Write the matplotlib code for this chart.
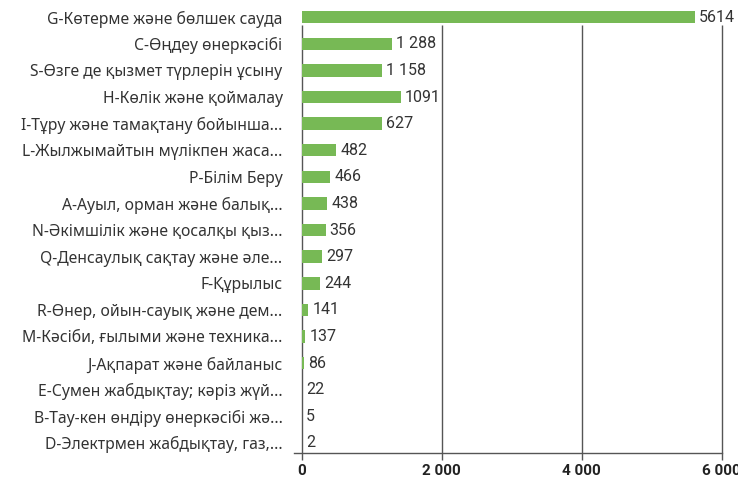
import matplotlib
matplotlib.use("Agg")
import matplotlib.pyplot as plt

# categories (top to bottom)
categories = [
    "G-Көтерме және бөлшек сауда",
    "C-Өңдеу өнеркәсібі",
    "S-Өзге де қызмет түрлерін ұсыну",
    "H-Көлік және қоймалау",
    "I-Тұру және тамақтану бойынша...",
    "L-Жылжымайтын мүлікпен жаса...",
    "P-Білім Беру",
    "A-Ауыл, орман және балық...",
    "N-Әкімшілік және қосалқы қыз...",
    "Q-Денсаулық сақтау және әле...",
    "F-Құрылыс",
    "R-Өнер, ойын-сауық және дем...",
    "M-Кәсіби, ғылыми және техника...",
    "J-Ақпарат және байланыс",
    "E-Сумен жабдықтау; кәріз жүй...",
    "B-Тау-кен өндіру өнеркәсібі жә...",
    "D-Электрмен жабдықтау, газ,...",
]
# bar lengths as drawn in the picture
bar_values = [5614, 1286, 1140, 1414, 1143, 496, 410, 362, 339, 290, 267, 90, 53, 33, 0, 0, 0]
# value labels as printed
value_labels = ["5614", "1 288", "1 158", "1091", "627", "482", "466", "438", "356",
                "297", "244", "141", "137", "86", "22", "5", "2"]
xticks = [0, 2000, 4000, 6000]
xtick_labels = ["0", "2 000", "4 000", "6 000"]

bar_color = "#77b955"
line_color = "#555555"

plt.rcParams['font.family'] = ['Noto Sans', 'DejaVu Sans']

fig = plt.figure(figsize=(7.38, 4.84), dpi=100)
ax = fig.add_axes([0.398, 0.064, 0.58, 0.928])

y = list(range(len(categories)))
ax.barh(y, bar_values, height=0.47, color=bar_color, zorder=3)

# vertical grid lines start just under the first bar
ax.vlines(xticks, 0.3, 16.38, color=line_color, linewidth=1, zorder=2, clip_on=False)

for yi, v, lab in zip(y, bar_values, value_labels):
    ax.annotate(lab, (v, yi), xytext=(3, 0), textcoords="offset points",
                va="center", ha="left", fontsize=11.5, color="#333333",
                family=['Roboto', 'DejaVu Sans'])

ax.set_xlim(-115, 6000)
ax.set_ylim(16.38, -0.5)
ax.set_yticks(y)
ax.set_yticklabels(categories, fontsize=11.3, color="#333333")
ax.tick_params(axis="y", length=0, pad=8)
ax.set_xticks(xticks)
ax.set_xticklabels(xtick_labels, fontsize=11, fontweight="bold", color="#222222",
                   family=['Roboto', 'DejaVu Sans'])
ax.tick_params(axis="x", length=5, color=line_color, width=1, pad=3)

for s in ["top", "right", "left"]:
    ax.spines[s].set_visible(False)
ax.spines["bottom"].set_color(line_color)
ax.spines["bottom"].set_linewidth(1)

fig.savefig("out.png", dpi=100)
